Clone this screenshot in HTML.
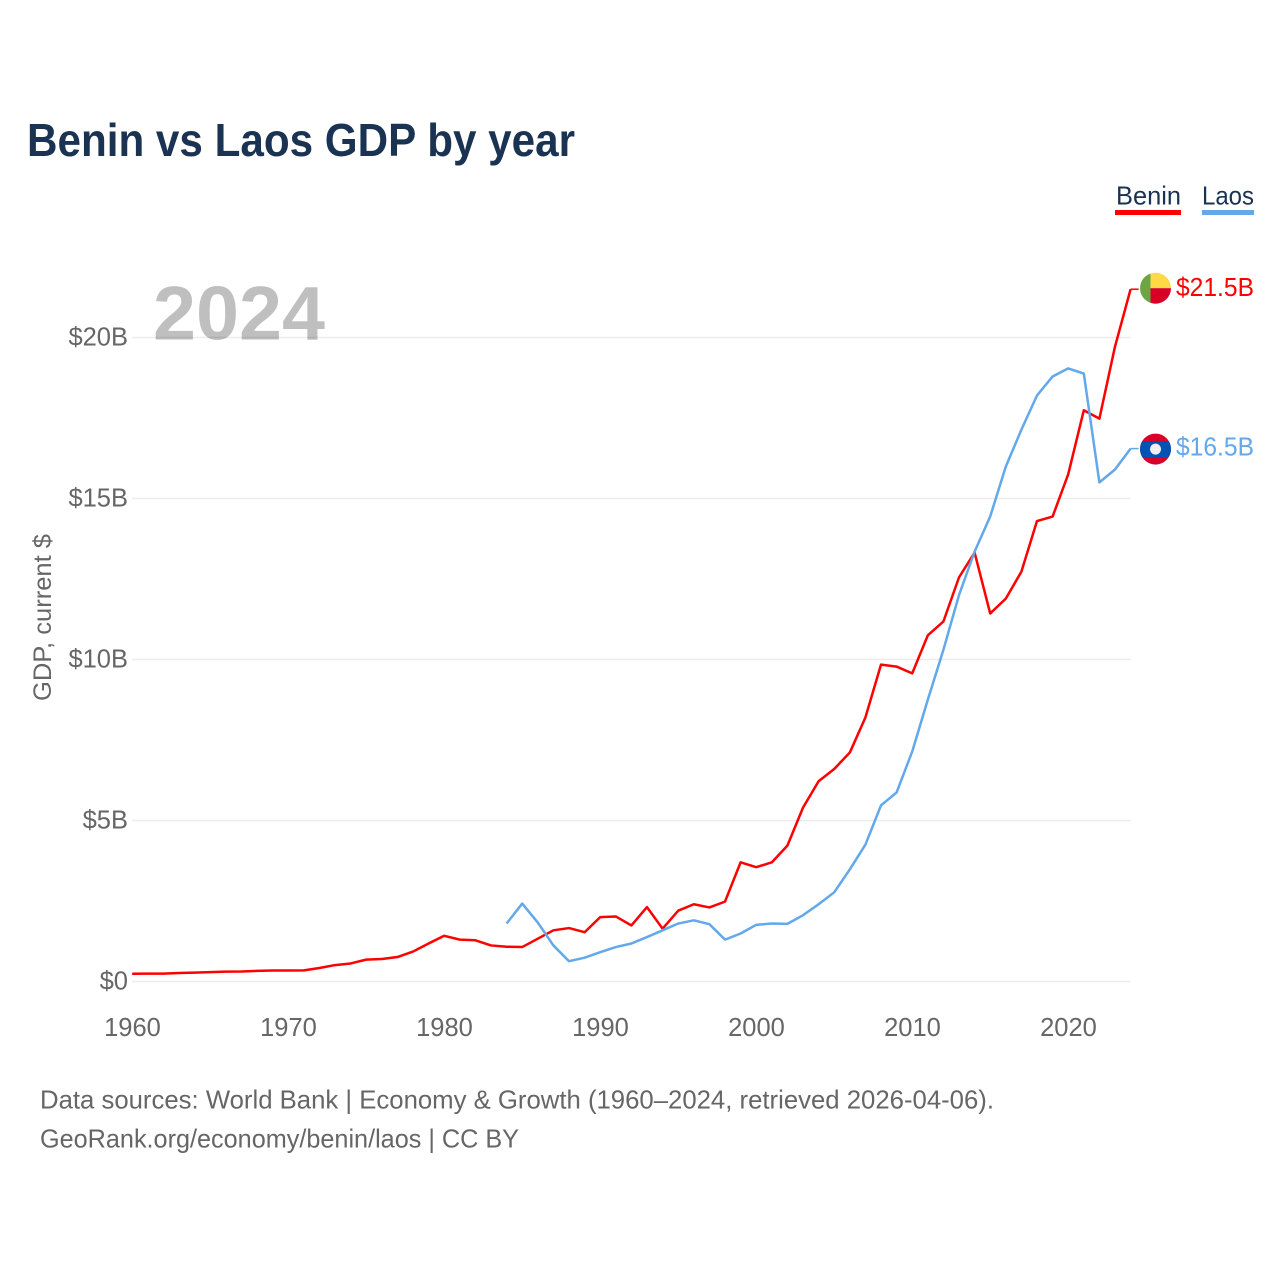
<!DOCTYPE html>
<html lang="en">
<head>
<meta charset="utf-8">
<title>Benin vs Laos GDP by year</title>
<style>
html,body{margin:0;padding:0;background:#fff;}
svg{display:block;}
text{font-family:"Liberation Sans",sans-serif;}
</style>
</head>
<body>
<svg id="chart" width="1280" height="1280" viewBox="0 0 1280 1280" xmlns="http://www.w3.org/2000/svg">
  <rect x="0" y="0" width="1280" height="1280" fill="#ffffff"></rect>
  <text x="27" y="156" font-size="46" font-weight="700" fill="#1a3353" textLength="548" lengthAdjust="spacingAndGlyphs">Benin vs Laos GDP by year</text>
  <g id="grid"></g>
  <text x="153" y="339.5" font-size="76" font-weight="700" fill="#000000" fill-opacity="0.25" textLength="172" lengthAdjust="spacingAndGlyphs">2024</text>
  <text transform="translate(51,701) rotate(-90)" x="0" y="0" font-size="25" fill="#666666" textLength="167" lengthAdjust="spacingAndGlyphs">GDP, current $</text>
  <g id="yticks"></g>
  <g id="xticks"></g>
  <g id="series"></g>
  <g>
    <g>
      <text x="1116" y="204.5" font-size="26" fill="#1a3353" textLength="65" lengthAdjust="spacingAndGlyphs">Benin</text>
      <rect x="1115" y="210" width="66" height="5" fill="#ff0000"></rect>
    </g>
    <g>
      <text x="1202" y="204.5" font-size="26" fill="#1a3353" textLength="52" lengthAdjust="spacingAndGlyphs">Laos</text>
      <rect x="1202" y="210" width="52" height="5" fill="#62a8ea"></rect>
    </g>
  </g>
  <g id="flag-benin">
    <clipPath id="clip-benin"><circle cx="0" cy="0" r="15.5"></circle></clipPath>
    <g clip-path="url(#clip-benin)">
      <rect x="-5" y="-16" width="21" height="16" fill="#ffda44"></rect>
      <rect x="-5" y="0" width="21" height="16" fill="#d80027"></rect>
      <rect x="-16" y="-16" width="11" height="32" fill="#6da544"></rect>
    </g>
  </g>
  <g id="flag-laos">
    <clipPath id="clip-laos"><circle cx="0" cy="0" r="15.5"></circle></clipPath>
    <g clip-path="url(#clip-laos)">
      <rect x="-16" y="-16" width="32" height="32" fill="#d80027"></rect>
      <rect x="-16" y="-8" width="32" height="16" fill="#0052b4"></rect>
      <circle cx="0" cy="0" r="5.5" fill="#f0f0f0"></circle>
    </g>
  </g>
  <text x="40" y="1108.5" font-size="26" fill="#666666" textLength="954" lengthAdjust="spacingAndGlyphs">Data sources: World Bank | Economy &amp; Growth (1960–2024, retrieved 2026-04-06).</text>
  <text x="40" y="1147.5" font-size="26" fill="#666666" textLength="479" lengthAdjust="spacingAndGlyphs">GeoRank.org/economy/benin/laos | CC BY</text>
</svg>
<script>
const beninYears = [1960,1961,1962,1963,1964,1965,1966,1967,1968,1969,1970,1971,1972,1973,1974,1975,1976,1977,1978,1979,1980,1981,1982,1983,1984,1985,1986,1987,1988,1989,1990,1991,1992,1993,1994,1995,1996,1997,1998,1999,2000,2001,2002,2003,2004,2005,2006,2007,2008,2009,2010,2011,2012,2013,2014,2015,2016,2017,2018,2019,2020,2021,2022,2023,2024];
const beninValues = [0.24,0.245,0.245,0.265,0.275,0.29,0.305,0.31,0.33,0.34,0.34,0.345,0.42,0.51,0.56,0.68,0.7,0.76,0.93,1.18,1.42,1.3,1.28,1.12,1.08,1.07,1.33,1.59,1.66,1.53,2.0,2.02,1.74,2.31,1.64,2.2,2.4,2.3,2.48,3.7,3.55,3.7,4.22,5.4,6.22,6.6,7.11,8.2,9.84,9.78,9.57,10.75,11.18,12.55,13.32,11.43,11.89,12.73,14.3,14.44,15.75,17.74,17.48,19.72,21.5];
const laosYears = [1984,1985,1986,1987,1988,1989,1990,1991,1992,1993,1994,1995,1996,1997,1998,1999,2000,2001,2002,2003,2004,2005,2006,2007,2008,2009,2010,2011,2012,2013,2014,2015,2016,2017,2018,2019,2020,2021,2022,2023,2024];
const laosValues = [1.8,2.42,1.83,1.12,0.63,0.74,0.91,1.07,1.18,1.38,1.59,1.8,1.9,1.78,1.3,1.49,1.76,1.8,1.79,2.06,2.4,2.77,3.48,4.25,5.47,5.87,7.14,8.75,10.3,12.0,13.35,14.44,15.99,17.14,18.2,18.79,19.04,18.88,15.5,15.9,16.55];
const yTickValues = [0,5,10,15,20];
const yTickLabels = ["$0","$5B","$10B","$15B","$20B"];
const xTickValues = [1960,1970,1980,1990,2000,2010,2020];
const xTickLabels = ["1960","1970","1980","1990","2000","2010","2020"];
const beninEndLabel = "$21.5B";
const laosEndLabel = "$16.5B";

const SVG_NS = "http://www.w3.org/2000/svg";
const RED = "#ff0000";
const BLUE = "#62a8ea";
function xScale(year) { return 132.2 + (year - 1960) * 15.6; }
function yScale(value) { return 981.5 - value * 32.2; }

function makeEl(tag, parentId) {
  const el = document.createElementNS(SVG_NS, tag);
  document.getElementById(parentId).appendChild(el);
  return el;
}

yTickValues.forEach(function (v, i) {
  const line = makeEl("line", "grid");
  
  
  line.setAttribute("x1", xScale(1960));
  line.setAttribute("x2", xScale(2024));
  line.setAttribute("y1", yScale(v));
  line.setAttribute("y2", yScale(v));
  line.setAttribute("stroke", "#ececec");
  line.setAttribute("stroke-width", "1.5");
  const label = makeEl("text", "yticks");
  
  
  label.setAttribute("x", 128);
  label.setAttribute("y", yScale(v) + 8);
  label.setAttribute("text-anchor", "end");
  label.setAttribute("font-size", "25.5");
  label.setAttribute("fill", "#666666");
  label.textContent = yTickLabels[i];
});

xTickValues.forEach(function (v, i) {
  const label = makeEl("text", "xticks");
  
  
  label.setAttribute("x", xScale(v) + 0.3);
  label.setAttribute("y", 1036);
  label.setAttribute("text-anchor", "middle");
  label.setAttribute("font-size", "25.5");
  label.setAttribute("fill", "#666666");
  label.textContent = xTickLabels[i];
});

function linePoints(years, values) {
  return years.map(function (y, i) {
    return xScale(y).toFixed(2) + "," + yScale(values[i]).toFixed(2);
  }).join(" ");
}

const beninLine = makeEl("polyline", "series");


beninLine.setAttribute("points", linePoints(beninYears, beninValues));
beninLine.setAttribute("fill", "none");
beninLine.setAttribute("stroke", RED);
beninLine.setAttribute("stroke-width", "2.5");
beninLine.setAttribute("stroke-linejoin", "round");

const laosLine = makeEl("polyline", "series");


laosLine.setAttribute("points", linePoints(laosYears, laosValues));
laosLine.setAttribute("fill", "none");
laosLine.setAttribute("stroke", BLUE);
laosLine.setAttribute("stroke-width", "2.5");
laosLine.setAttribute("stroke-linejoin", "round");

const beninEndY = yScale(beninValues[beninValues.length - 1]);
const laosEndY = yScale(laosValues[laosValues.length - 1]);
const endX = xScale(2024);

const beninConnector = makeEl("line", "series");


beninConnector.setAttribute("x1", endX);
beninConnector.setAttribute("x2", endX + 8);
beninConnector.setAttribute("y1", beninEndY);
beninConnector.setAttribute("y2", beninEndY);
beninConnector.setAttribute("stroke", RED);
beninConnector.setAttribute("stroke-width", "1.5");

const laosConnector = makeEl("line", "series");


laosConnector.setAttribute("x1", endX);
laosConnector.setAttribute("x2", endX + 8);
laosConnector.setAttribute("y1", laosEndY);
laosConnector.setAttribute("y2", laosEndY);
laosConnector.setAttribute("stroke", BLUE);
laosConnector.setAttribute("stroke-width", "1.5");

document.getElementById("flag-benin").setAttribute("transform", "translate(1155.5," + (beninEndY - 1) + ")");
document.getElementById("flag-laos").setAttribute("transform", "translate(1155.5," + (laosEndY + 0.5) + ")");

const beninValueLabel = makeEl("text", "series");


beninValueLabel.setAttribute("x", 1176);
beninValueLabel.setAttribute("y", beninEndY + 7);
beninValueLabel.setAttribute("font-size", "25.5");
beninValueLabel.setAttribute("fill", RED);
beninValueLabel.setAttribute("textLength", "78");
beninValueLabel.setAttribute("lengthAdjust", "spacingAndGlyphs");
beninValueLabel.textContent = beninEndLabel;

const laosValueLabel = makeEl("text", "series");


laosValueLabel.setAttribute("x", 1176);
laosValueLabel.setAttribute("y", laosEndY + 7);
laosValueLabel.setAttribute("font-size", "25.5");
laosValueLabel.setAttribute("fill", BLUE);
laosValueLabel.setAttribute("textLength", "78");
laosValueLabel.setAttribute("lengthAdjust", "spacingAndGlyphs");
laosValueLabel.textContent = laosEndLabel;
</script>
</body>
</html>
